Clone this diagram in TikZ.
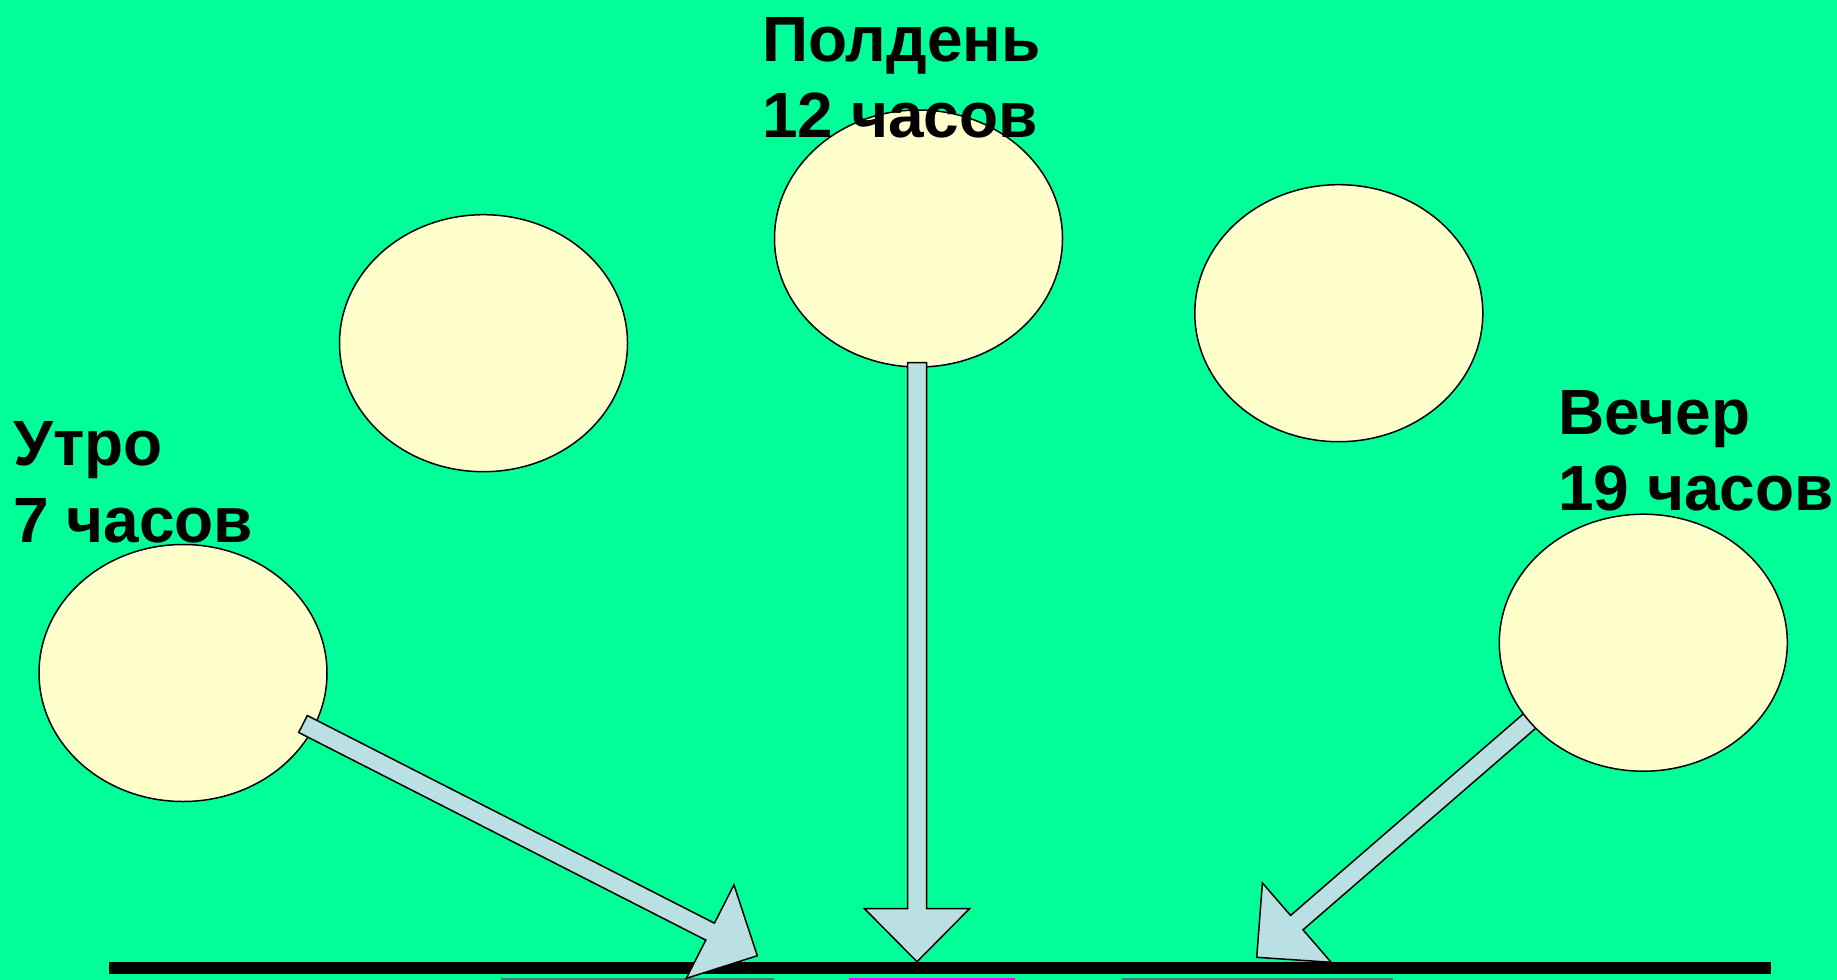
\documentclass[tikz,border=0pt]{standalone}
\usepackage{fontspec}
\setmainfont{Liberation Sans}
\usetikzlibrary{shapes.geometric,calc}
\definecolor{bgc}{HTML}{00FF99}
\definecolor{sunc}{HTML}{FFFFCC}
\definecolor{arrc}{HTML}{BBE0E3}
\definecolor{stripc}{HTML}{3F8080}
\definecolor{magc}{HTML}{FF00FF}
\tikzset{
  sun/.style={ellipse, draw=black, line width=1.5pt, fill=sunc, minimum width=288pt, minimum height=257pt, inner sep=0pt},
  arrowbox/.style={draw=black, line width=1.5pt, fill=arrc, line join=miter},
  lbl/.style={anchor=base west, inner sep=0pt, font=\fontsize{64}{76}\selectfont\bfseries}
}
\newcommand{\blockarr}[2]{%
  \coordinate (N) at ($(#2)!53pt!(#1)$);
  \draw[arrowbox] ($(#1)!9.5pt!90:(#2)$) -- ($(N)!9.5pt!-90:(#1)$) -- ($(N)!52.5pt!-90:(#1)$) -- (#2)
    -- ($(N)!52.5pt!90:(#1)$) -- ($(N)!9.5pt!90:(#1)$) -- ($(#1)!9.5pt!-90:(#2)$) -- cycle;
}
\begin{document}
\begin{tikzpicture}[x=1pt,y=-1pt]
\useasboundingbox (0,0) rectangle (1837,980);
\fill[bgc] (0,0) rectangle (1837,980);
% ground line
\fill[black] (109,962) rectangle (1771,974);
% partially visible shapes at the bottom edge
\fill[stripc] (501,978) rectangle (774,980);
\fill[magc] (849,978) rectangle (1015,980);
\fill[stripc] (1122,978) rectangle (1393,980);
% arrow coordinates
\coordinate (tailL) at (303,724);
\coordinate (tipL) at (757.3,955.7);
\coordinate (tailM) at (917,362.7);
\coordinate (tipM) at (917,961.7);
\coordinate (tailR) at (1543.9,708.6);
\coordinate (tipR) at (1256.7,957.3);
% right arrow is below its ellipse
\blockarr{tailR}{tipR}
% suns
\node[sun] (morning) at (183,673) {};
\node[sun] (mid1) at (483.5,343.2) {};
\node[sun] (noon) at (918.5,238.5) {};
\node[sun] (mid2) at (1338.8,313.2) {};
\node[sun] (evening) at (1643.3,642.7) {};
% other arrows
\blockarr{tailL}{tipL}
\blockarr{tailM}{tipM}
% labels
\node[lbl] (utroA) at (13,465) {Утро};
\node[lbl] (utroB) at (13,542) {7 часов};
\node[lbl] (noonA) at (762,61) {Полдень};
\node[lbl] (noonB) at (762,137) {12 часов};
\node[lbl] (vecherA) at (1558,434) {Вечер};
\node[lbl] (vecherB) at (1558,510) {19 часов};
\end{tikzpicture}
\end{document}
